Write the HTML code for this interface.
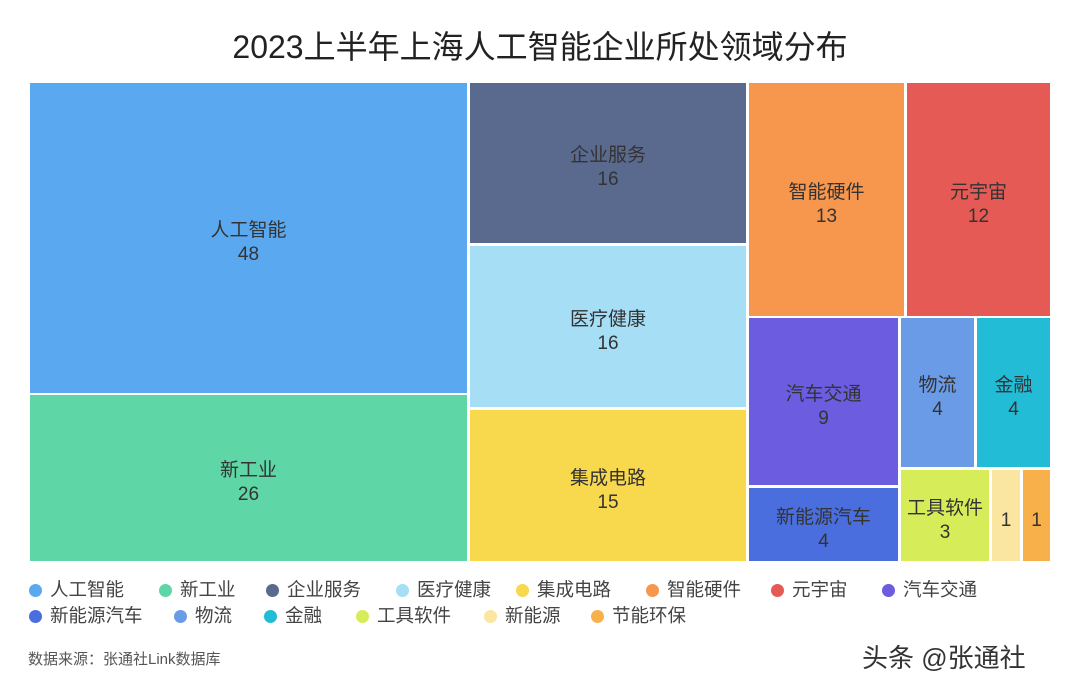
<!DOCTYPE html>
<html><head><meta charset="utf-8"><style>
body{margin:0;width:1080px;height:689px;background:#fff;position:relative;overflow:hidden;font-family:"Liberation Sans","Noto Sans CJK SC",sans-serif;color:#333}
.t{position:absolute;left:0;width:1080px;top:22px;text-align:center;font-size:32px;color:#222}
.b{position:absolute;box-sizing:border-box;padding-top:10px;display:flex;flex-direction:column;align-items:center;justify-content:center;font-size:19px;line-height:24px;color:#333;text-align:center}
.l{position:absolute;font-size:18.5px;color:#444;white-space:nowrap}
.l i{display:inline-block;width:13px;height:13px;border-radius:50%;margin-right:8px;vertical-align:-1px}
</style></head><body>
<div class="t">2023上半年上海人工智能企业所处领域分布</div>
<div class="b" style="left:30px;top:83px;width:437px;height:310px;background:#5aa9f0">人工智能<br>48</div>
<div class="b" style="left:30px;top:395px;width:437px;height:166px;background:#5fd6a6">新工业<br>26</div>
<div class="b" style="left:470px;top:83px;width:276px;height:160px;background:#5a6a8e">企业服务<br>16</div>
<div class="b" style="left:470px;top:246px;width:276px;height:161px;background:#a6def6">医疗健康<br>16</div>
<div class="b" style="left:470px;top:410px;width:276px;height:151px;background:#f8d84c">集成电路<br>15</div>
<div class="b" style="left:749px;top:83px;width:155px;height:233px;background:#f7974e">智能硬件<br>13</div>
<div class="b" style="left:907px;top:83px;width:143px;height:233px;background:#e55a55">元宇宙<br>12</div>
<div class="b" style="left:749px;top:318px;width:149px;height:167px;background:#6b5ce0">汽车交通<br>9</div>
<div class="b" style="left:749px;top:488px;width:149px;height:73px;background:#4a6ede">新能源汽车<br>4</div>
<div class="b" style="left:901px;top:318px;width:73px;height:149px;background:#6a9be6">物流<br>4</div>
<div class="b" style="left:977px;top:318px;width:73px;height:149px;background:#23bcd6">金融<br>4</div>
<div class="b" style="left:901px;top:470px;width:88px;height:91px;background:#d6ec58">工具软件<br>3</div>
<div class="b" style="left:992px;top:470px;width:28px;height:91px;background:#fae6a0">1</div>
<div class="b" style="left:1023px;top:470px;width:27px;height:91px;background:#f8b04a">1</div>
<div class="l" style="left:29px;top:576px"><i style="background:#5aa9f0"></i>人工智能</div>
<div class="l" style="left:159px;top:576px"><i style="background:#5fd6a6"></i>新工业</div>
<div class="l" style="left:266px;top:576px"><i style="background:#5a6a8e"></i>企业服务</div>
<div class="l" style="left:396px;top:576px"><i style="background:#a6def6"></i>医疗健康</div>
<div class="l" style="left:516px;top:576px"><i style="background:#f8d84c"></i>集成电路</div>
<div class="l" style="left:646px;top:576px"><i style="background:#f7974e"></i>智能硬件</div>
<div class="l" style="left:771px;top:576px"><i style="background:#e55a55"></i>元宇宙</div>
<div class="l" style="left:882px;top:576px"><i style="background:#6b5ce0"></i>汽车交通</div>
<div class="l" style="left:29px;top:602px"><i style="background:#4a6ede"></i>新能源汽车</div>
<div class="l" style="left:174px;top:602px"><i style="background:#6a9be6"></i>物流</div>
<div class="l" style="left:264px;top:602px"><i style="background:#23bcd6"></i>金融</div>
<div class="l" style="left:356px;top:602px"><i style="background:#d6ec58"></i>工具软件</div>
<div class="l" style="left:484px;top:602px"><i style="background:#fae6a0"></i>新能源</div>
<div class="l" style="left:591px;top:602px"><i style="background:#f8b04a"></i>节能环保</div>
<div style="position:absolute;left:28px;top:648px;font-size:15px;color:#555">数据来源：张通社Link数据库</div>
<div style="position:absolute;left:862px;top:638px;font-size:26px;color:#333">头条 @张通社</div>
</body></html>
